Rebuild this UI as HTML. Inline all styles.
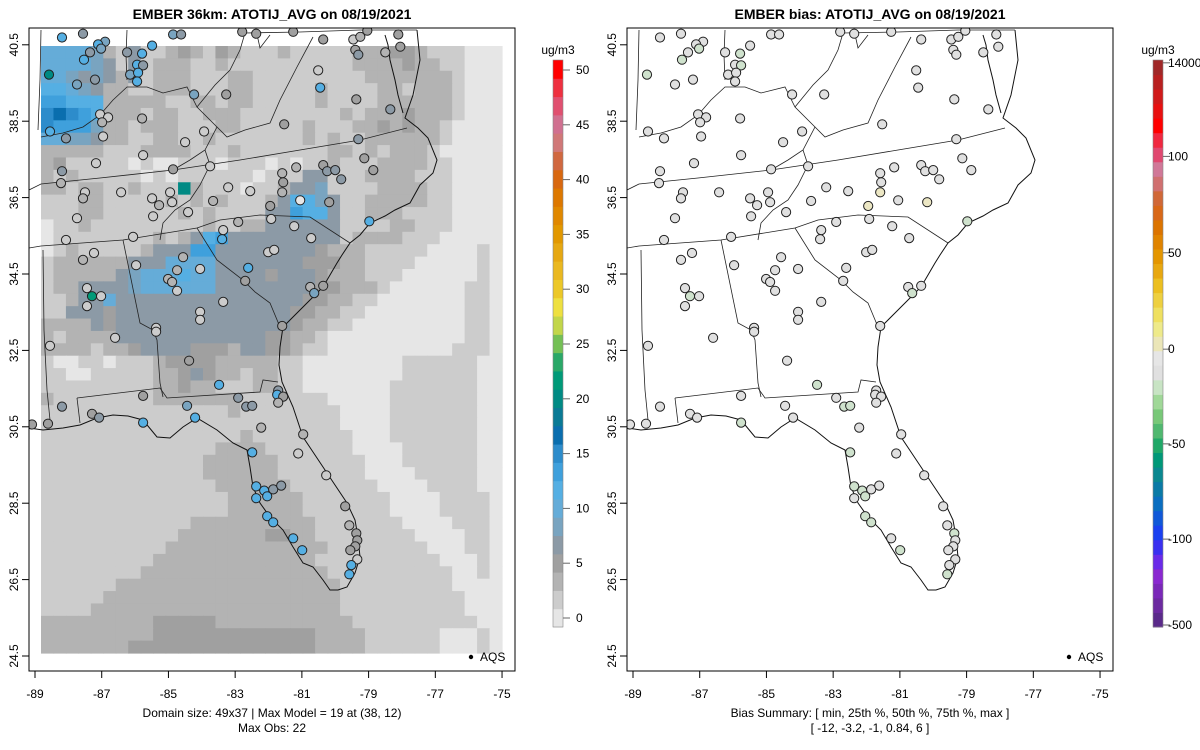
<!DOCTYPE html>
<html><head><meta charset="utf-8"><style>
html,body{margin:0;padding:0;background:#fff}
svg{display:block;font-family:"Liberation Sans",sans-serif}
</style></head><body>
<svg id="chart" width="1200" height="750" viewBox="0 0 1200 750" xmlns="http://www.w3.org/2000/svg">
<defs>
<clipPath id="clipL"><rect x="29" y="28" width="486" height="643"/></clipPath>
<clipPath id="clipR"><rect x="627" y="28" width="486" height="643"/></clipPath>
</defs>
<text x="272" y="19" font-size="14" font-weight="bold" text-anchor="middle">EMBER 36km: ATOTIJ_AVG on 08/19/2021</text>
<text x="870" y="19" font-size="14" font-weight="bold" text-anchor="middle">EMBER bias: ATOTIJ_AVG on 08/19/2021</text>
<g id="left"></g>
<g id="right"></g>
<text x="272" y="717" font-size="12" text-anchor="middle">Domain size: 49x37 | Max Model = 19 at (38, 12)</text>
<text x="272" y="732" font-size="12" text-anchor="middle">Max Obs: 22</text>
<text x="870" y="717" font-size="12" text-anchor="middle">Bias Summary: [ min, 25th %, 50th %, 75th %, max ]</text>
<text x="870" y="732" font-size="12" text-anchor="middle">[ -12,   -3.2,   -1,   0.84,   6 ]</text>
</svg>
<script>
// ---- data ----
const xTicks = [-89,-87,-85,-83,-81,-79,-77,-75];
const yTicks = [24.5,26.5,28.5,30.5,32.5,34.5,36.5,38.5,40.5];
const obsBinColors = ["#e6e6e6","#cccccc","#b3b3b3","#a0a0a0","#8c9aa6","#79a4c0","#65acd8","#55afe3","#3fa0dc","#2d8ccb","#0a6eae","#0a7a95","#008a84","#009a78","#2aa868","#74c055","#c2d64a","#eee040","#ecc828","#eab820","#e6a812","#e29800","#e08800","#dd7800","#d86810","#d06840","#d07878","#d07090","#e05070","#ee3040","#ff0000"];
const obsTickValues = [0,5,10,15,20,25,30,35,40,45,50];
const biasBinColors = ["#5a2a8a","#6c2aa0","#7a28b8","#8a28d0","#6a2ae8","#3a30f0","#1a40f0","#1058d8","#0a6ec0","#0a7aa6","#0a8890","#009878","#20a868","#50b870","#78c878","#a0d898","#c8e4c4","#e0e0e0","#e6e6e6","#ebe6b8","#eeea8a","#efe060","#eed040","#ecbf20","#e8a810","#e49600","#e08400","#dc7400","#d86818","#d06838","#d07070","#d07898","#e04870","#f02840","#ff0000","#e81010","#d01a1a","#b82020","#a02828"];
const biasTickLabels = ["-500","-100","-50","0","50","100","14000"];
const biasTickPos = [0.0,0.155,0.323,0.49,0.66,0.83,0.995];
// model grid: 49 rows x 37 cols, each char = colour-bin index (base 36)
const gridRows = [
"6666521411232132111211111222332111000",
"6666541412221121111111111222232211000",
"6654542412221112211111111122222221000",
"7765422112221112211111211112212221000",
"8877722222112212211111211112222221000",
"9a98722212211222111111112122232221000",
"9888522122211122111112111223232210000",
"6655422112211211111112121122222210000",
"2222211122221112111111122121222100000",
"2311111010011101110101121112222110000",
"2121111101011111101114411122221110000",
"22122112111c2111011244511112222110000",
"1112211111212121112477541122222110000",
"1112211111121211114487741122211110000",
"0112111111111211224444441111221110000",
"0111111112124784444444441222211100000",
"0121111124448844444444322211111000010",
"1222222444666644444443332211110000010",
"1222224566676644443444322211100000010",
"1224444566666644444444332221000000110",
"1124464444444444444443322110000000110",
"1144434444444444444433221100000000110",
"2222434444444444444432211000000000110",
"2122224444444444443322100000000000110",
"2222122344443332443321100000000001110",
"1001101112333322222110000000011111100",
"1100111112234322122110000000011111100",
"1111111112232211122110000000111111100",
"2111111112222222111111100000111111100",
"1111111111111112111111110000111111100",
"1111111111111111111111110000111111100",
"1111111111111111211111111000111111100",
"1111111111111122221111111000011111100",
"1111111111111222222111111100011111100",
"1111111111111222222111111100001111100",
"1111111111111122222211111110000111100",
"1111111111111112222221111111000011110",
"1111111111111112222221111111000011110",
"1111111111112222222222111111100001110",
"1111111111122222223322111111110000110",
"1111111111222222222222211111111000110",
"1111111112222222222222111111111100010",
"1111111122222222222222211111111110010",
"1111112222222222222222221111111110000",
"1111122222222222222222221111111111000",
"1111222222222222222222221111111111000",
"2222222223333322222222222111111111100",
"2222222223333333333333222211111100010",
"2222222333333333333333222211111100010"];
// stations
const stLon = [-88.19,-87.56,-86.90,-87.11,-87.02,-87.35,-87.53,-88.58,-87.20,-87.74,-86.24,-85.79,-85.94,-85.76,-86.15,-85.91,-85.94,-85.49,-84.86,-84.62,-82.79,-82.37,-81.26,-80.36,-79.46,-79.25,-79.04,-78.11,-78.05,-79.40,-79.31,-78.50,-80.51,-80.45,-84.23,-83.27,-79.37,-78.35,-87.05,-86.81,-86.99,-85.79,-88.55,-88.07,-86.96,-83.93,-84.50,-81.53,-79.31,-85.76,-87.17,-88.19,-88.22,-84.86,-83.75,-79.13,-78.86,-80.36,-80.24,-80.00,-79.82,-81.17,-81.59,-81.56,-87.50,-87.56,-86.42,-84.95,-85.49,-85.28,-84.89,-84.41,-83.21,-82.55,-83.66,-81.59,-81.95,-81.05,-80.18,-87.74,-85.46,-81.92,-78.98,-83.36,-82.91,-81.23,-88.07,-86.06,-83.39,-80.72,-87.56,-87.23,-85.97,-84.56,-84.74,-84.05,-85.01,-84.89,-84.74,-82.01,-81.83,-82.61,-82.70,-87.44,-87.29,-87.02,-87.44,-83.36,-84.05,-84.05,-80.75,-80.36,-80.63,-81.59,-85.37,-85.37,-86.60,-88.55,-84.38,-83.48,-85.76,-84.44,-84.20,-82.91,-82.67,-82.49,-81.71,-81.74,-81.56,-81.71,-88.19,-87.29,-87.08,-88.61,-89.09,-85.76,-82.22,-80.96,-81.11,-82.49,-80.27,-82.37,-82.37,-82.13,-82.04,-81.86,-81.62,-82.04,-81.86,-81.26,-80.99,-79.70,-79.58,-79.37,-79.34,-79.40,-79.55,-79.34,-79.52,-79.58];
const stLat = [40.69,40.79,40.58,40.51,40.40,40.30,40.11,39.72,39.59,39.46,40.30,40.27,39.98,39.96,39.72,39.77,39.54,40.48,40.77,40.77,40.84,40.79,40.84,40.64,40.64,40.71,40.87,40.77,40.45,40.37,40.24,40.30,39.83,39.38,39.20,39.20,39.07,38.81,38.68,38.60,38.47,38.57,38.23,38.05,38.10,38.23,37.95,38.42,38.03,37.61,37.40,37.19,36.88,37.24,37.32,37.53,37.22,37.35,37.19,37.22,36.98,37.29,37.14,36.90,36.64,36.48,36.64,36.64,36.48,36.30,36.38,36.12,36.77,36.67,36.41,36.64,36.28,36.43,36.38,35.96,36.01,35.94,35.88,35.65,35.86,35.75,35.39,35.47,35.41,35.44,34.87,35.05,34.73,34.94,34.60,34.63,34.37,34.29,34.06,35.07,35.13,34.66,34.32,34.13,33.92,33.92,33.66,33.77,33.51,33.30,34.16,34.19,34.00,33.14,33.09,32.99,32.83,32.62,32.23,31.60,31.31,31.05,30.74,31.26,31.03,31.05,31.45,31.34,31.29,31.13,31.03,30.84,30.74,30.58,30.56,30.61,30.48,30.30,29.80,29.83,29.23,28.94,28.63,28.83,28.68,28.86,28.96,28.16,28.00,27.58,27.27,28.42,27.92,27.71,27.53,27.37,27.27,27.03,26.88,26.64];
const stObs = [12,7,9,12,9,8,12,20,8,9,8,12,12,7,9,12,12,12,9,7,6,6,5,6,2,4,6,5,5,5,7,4,2,12,9,5,5,7,3,3,4,4,12,8,3,3,3,5,7,3,3,7,4,5,3,5,6,6,7,7,8,4,4,5,3,4,2,3,3,4,2,2,3,2,4,4,6,1,5,3,2,3,12,3,4,3,2,2,12,3,4,2,3,4,4,3,4,4,2,3,3,12,5,3,22,3,3,3,3,3,4,5,9,6,3,3,2,2,5,12,6,9,12,7,7,7,7,12,5,4,7,6,7,6,6,12,4,4,3,12,3,12,12,12,12,7,8,12,12,12,12,6,4,6,6,6,6,2,12,12];
const stBias = [0,-1,0,-1,-4,0,-3,-5,0,0,0,-4,0,-4,0,0,0,0,0,0,0,0,0,0,0,0,0,0,0,0,0,0,0,0,0,0,0,0,0,0,0,0,0,0,0,0,0,0,0,0,0,0,0,0,0,0,0,0,0,0,0,0,0,0,0,0,0,0,0,0,0,0,0,0,0,4,6,0,3,0,0,0,-4,0,0,0,0,0,0,0,0,0,0,0,0,0,0,0,0,0,0,0,0,0,-6,0,0,0,0,0,0,0,-4,0,0,0,0,0,0,-3,0,0,0,0,-3,-3,0,0,0,0,0,0,0,0,0,-3,0,0,0,-3,0,-3,0,-3,-3,0,0,-3,-3,0,-3,0,0,-3,0,0,0,0,0,-3,-3];

// ---- scales ----
function xS(lon){return 35 + (lon+89)*33.36;}
function yS(lat){return 656 - (lat-24.5)*38.2;}
function obsColor(v){let i=Math.floor(v/1.62);i=Math.max(0,Math.min(obsBinColors.length-1,i));return obsBinColors[i];}
function biasColor(b){if(b<=-10)return "#78c878";if(b<=-2)return "#cfe2cd";if(b>=2)return "#ece7c4";return "#e0e0e0";}

// ---- basemap outlines (pixel geometry, left panel) ----
const coast = [[417,30],[420,60],[413,95],[405,118],[418,128],[428,138],[437,160],[433,173],[420,185],[410,203],[395,210],[385,216],[370,223],[360,235],[350,243],[342,255],[337,263],[330,275],[323,287],[310,300],[297,313],[283,327],[280,347],[279,365],[282,382],[293,407],[303,437],[313,452],[323,467],[335,485],[347,503],[355,520],[358,537],[360,557],[355,573],[347,587],[338,590],[330,590],[323,580],[313,567],[303,563],[293,547],[283,530],[270,517],[260,503],[253,487],[250,467],[247,450],[233,443],[217,430],[197,418],[183,427],[170,438],[157,437],[143,420],[128,416],[113,415],[97,418],[80,425],[63,428],[43,430],[29,428]];
const chesapeake = [[403,113],[398,95],[395,80],[390,60],[388,45],[385,35]];
const borders = [
 [[29,190],[41,184],[100,178],[173,170],[240,160],[300,150],[360,140],[407,128]],
 [[29,248],[41,246],[123,240],[197,228],[220,220],[260,215],[310,217],[350,243]],
 [[197,228],[217,260],[243,280],[255,292],[270,303],[280,327]],
 [[123,240],[140,323],[153,330],[157,340],[160,383],[163,397]],
 [[43,250],[44,330],[47,390],[50,420]],
 [[77,398],[160,388],[167,398],[260,392],[263,380],[278,382]],
 [[77,398],[80,423]],
 [[173,170],[190,160],[205,150],[217,127],[227,137],[245,130],[270,123],[280,100],[297,67],[313,37]],
 [[41,137],[63,133],[83,127],[100,115],[113,100],[127,87],[147,87],[163,93],[187,87],[197,107],[217,127]],
 [[127,30],[126,55],[127,80]],
 [[41,30],[40,80],[38,130]],
 [[197,107],[215,85],[230,70],[240,50],[245,33]],
 [[245,33],[300,32],[360,30],[417,30]],
 [[256,30],[260,48],[270,35]],
 [[205,150],[210,165],[200,185],[190,200],[175,210],[163,223],[160,240]]
];

// ---- draw ----
const NS="http://www.w3.org/2000/svg";
function mk(tag,attrs,parent){const e=document.createElementNS(NS,tag);for(const k in attrs)e.setAttribute(k,attrs[k]);parent.appendChild(e);return e;}

function drawPanel(g,dx,isBias){
  const clip = isBias?"url(#clipR)":"url(#clipL)";
  const inner = mk("g",{"clip-path":clip},g);
  
  
  if(!isBias){
    const gx0=41, gy0=46, cw=461/37, ch=607/49;
    gridRows.forEach((row,r)=>{
      for(let c=0;c<37;c++){
        const ch0=row[c]||'0';
        const bin=parseInt(ch0,36);
        const rc=mk("rect",{x:(gx0+c*cw).toFixed(2),y:(gy0+r*ch).toFixed(2),width:(cw+0.6).toFixed(2),height:(ch+0.6).toFixed(2),fill:obsBinColors[bin]},inner);
        
        
      }
    });
  }
  const pts=a=>a.map(p=>(p[0]+dx)+","+p[1]).join(" ");
  const cl=mk("polyline",{points:pts(coast),fill:"none",stroke:"#111","stroke-width":1},inner);
  
  
  const cp=mk("polyline",{points:pts(chesapeake),fill:"none",stroke:"#111","stroke-width":1},inner);
  
  
  borders.forEach(b=>{
    const l=mk("polyline",{points:pts(b),fill:"none",stroke:"#222","stroke-width":0.8},inner);
    
    
  });
  for(let i=0;i<stLon.length;i++){
    const c=mk("circle",{cx:(xS(stLon[i])+dx).toFixed(1),cy:yS(stLat[i]).toFixed(1),r:4.6,fill:isBias?biasColor(stBias[i]):obsColor(stObs[i]),stroke:"#222","stroke-width":1},inner);
    
    
  }
  const box=mk("rect",{x:29+dx,y:28,width:486,height:643,fill:"none",stroke:"#000","stroke-width":1},g);
  
  
  xTicks.forEach(t=>{
    const x=xS(t)+dx;
    const tk=mk("line",{x1:x,y1:671,x2:x,y2:678,stroke:"#000"},g);
    
    
    const tx=mk("text",{x:x,y:698,"font-size":12,"text-anchor":"middle"},g);
    tx.textContent=t;
    
    
  });
  yTicks.forEach(t=>{
    const y=yS(t);
    const tk=mk("line",{x1:29+dx,y1:y,x2:22+dx,y2:y,stroke:"#000"},g);
    
    
    const tx=mk("text",{x:0,y:0,"font-size":12,"text-anchor":"middle",transform:`translate(${18+dx},${y}) rotate(-90)`},g);
    tx.textContent=t.toFixed(1);
    
    
  });
  const ld=mk("circle",{cx:471+dx,cy:657,r:2.2,fill:"#000"},g);
  
  
  const lt=mk("text",{x:480+dx,y:661,"font-size":12},g);
  lt.textContent="AQS";
  
  
  const cx0=isBias?1153:553, top=60, bot=627;
  const cols=isBias?biasBinColors:obsBinColors;
  const bh=(bot-top)/cols.length;
  cols.forEach((c,i)=>{
    const r=mk("rect",{x:cx0,y:(bot-(i+1)*bh).toFixed(2),width:10,height:(bh+0.5).toFixed(2),fill:c},g);
    
    
  });
  const cb=mk("rect",{x:cx0,y:top,width:10,height:bot-top,fill:"none",stroke:"#888","stroke-width":0.6},g);
  
  
  const un=mk("text",{x:cx0+5,y:54,"font-size":12,"text-anchor":"middle"},g);
  un.textContent="ug/m3";
  
  
  if(!isBias){
    obsTickValues.forEach(v=>{
      const y=618-(v/50)*548;
      const tk=mk("line",{x1:563,y1:y,x2:570,y2:y,stroke:"#666"},g);
      
      
      const tx=mk("text",{x:576,y:y+4,"font-size":12},g);
      tx.textContent=v;
      
      
    });
  } else {
    biasTickLabels.forEach((lab,i)=>{
      const y=bot-biasTickPos[i]*(bot-top)+(i===0?-2:0);
      const tk=mk("line",{x1:1163,y1:y,x2:1170,y2:y,stroke:"#666"},g);
      
      
      const tx=mk("text",{x:1168,y:y+4,"font-size":12},g);
      tx.textContent=lab;
      
      
    });
  }
}
drawPanel(document.getElementById("left"),0,false);
drawPanel(document.getElementById("right"),598,true);
</script>
</body></html>
